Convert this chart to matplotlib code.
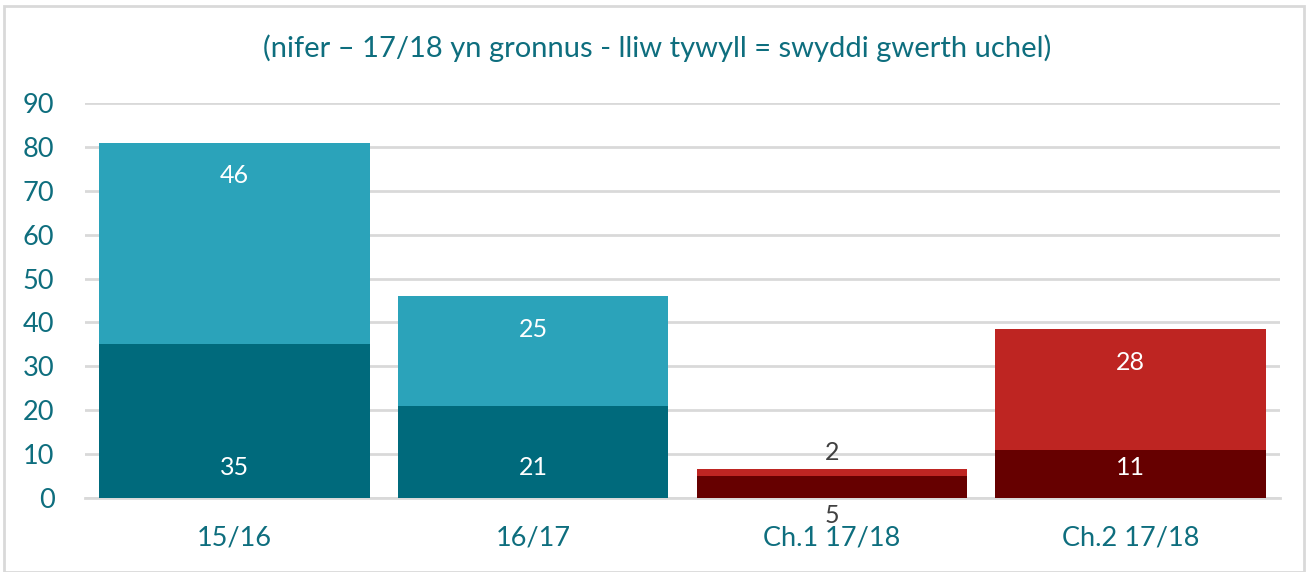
import matplotlib.pyplot as plt
from matplotlib.patches import Rectangle

categories = ['15/16', '16/17', 'Ch.1 17/18', 'Ch.2 17/18']
high_value = [35, 21, 5, 11]      # lliw tywyll
other = [46, 25, 1.5, 27.5]       # lliw golau
dark_cols = ['#006A7C', '#006A7C', '#660000', '#660000']
light_cols = ['#2BA3BA', '#2BA3BA', '#BE2522', '#BE2522']

teal = '#0E6E7E'
plt.rcParams['font.family'] = ['Lato', 'DejaVu Sans']

fig = plt.figure(figsize=(13.14, 5.72), dpi=100)
ax = fig.add_axes([85 / 1314, (572 - 498) / 572, 1195 / 1314, 395 / 572])

x = list(range(len(categories)))
ax.bar(x, high_value, width=0.905, color=dark_cols, zorder=3)
ax.bar(x, other, width=0.905, bottom=high_value, color=light_cols, zorder=3)

for i in x:
    top = high_value[i] + other[i]
    if other[i] < 5:
        ax.annotate(format(other[i], '.0f'), (i, top), xytext=(0, 4), textcoords='offset points',
                    ha='center', va='bottom', fontsize=18, color='#404040')
        ax.annotate(format(high_value[i], '.0f'), (i, 0), xytext=(0, -4), textcoords='offset points',
                    ha='center', va='top', fontsize=18, color='#404040')
    else:
        ax.annotate(format(other[i], '.0f'), (i, top), xytext=(0, -24), textcoords='offset points',
                    ha='center', va='center', fontsize=18, color='white', zorder=4)
        ax.annotate(format(high_value[i], '.0f'), (i, 0), xytext=(0, 22), textcoords='offset points',
                    ha='center', va='center', fontsize=18, color='white', zorder=4)

ax.set_xlim(-0.5, 3.5)
ax.set_ylim(0, 90)
ax.set_yticks(range(0, 91, 10))
ax.set_xticks(x)
ax.set_xticklabels(categories)
ax.yaxis.grid(True, color='#D9D9D9', linewidth=2, zorder=0)
for s in ['top', 'right', 'left']:
    ax.spines[s].set_visible(False)
ax.spines['bottom'].set_color('#D9D9D9')
ax.spines['bottom'].set_linewidth(2)
ax.tick_params(length=0, labelsize=19.5, labelcolor=teal)
ax.tick_params(axis='y', pad=22)
ax.tick_params(axis='x', pad=20)

fig.text(0.5, 1 - 48 / 572, '(nifer \u2013 17/18 yn gronnus - lliw tywyll = swyddi gwerth uchel)',
         ha='center', va='center', fontsize=21, color=teal)

fig.patches.append(Rectangle((4 / 1314, 0), 1300 / 1314, 566 / 572, transform=fig.transFigure,
                             fill=False, edgecolor='#D9D9D9', linewidth=2))

fig.savefig('out.png', dpi=100)
